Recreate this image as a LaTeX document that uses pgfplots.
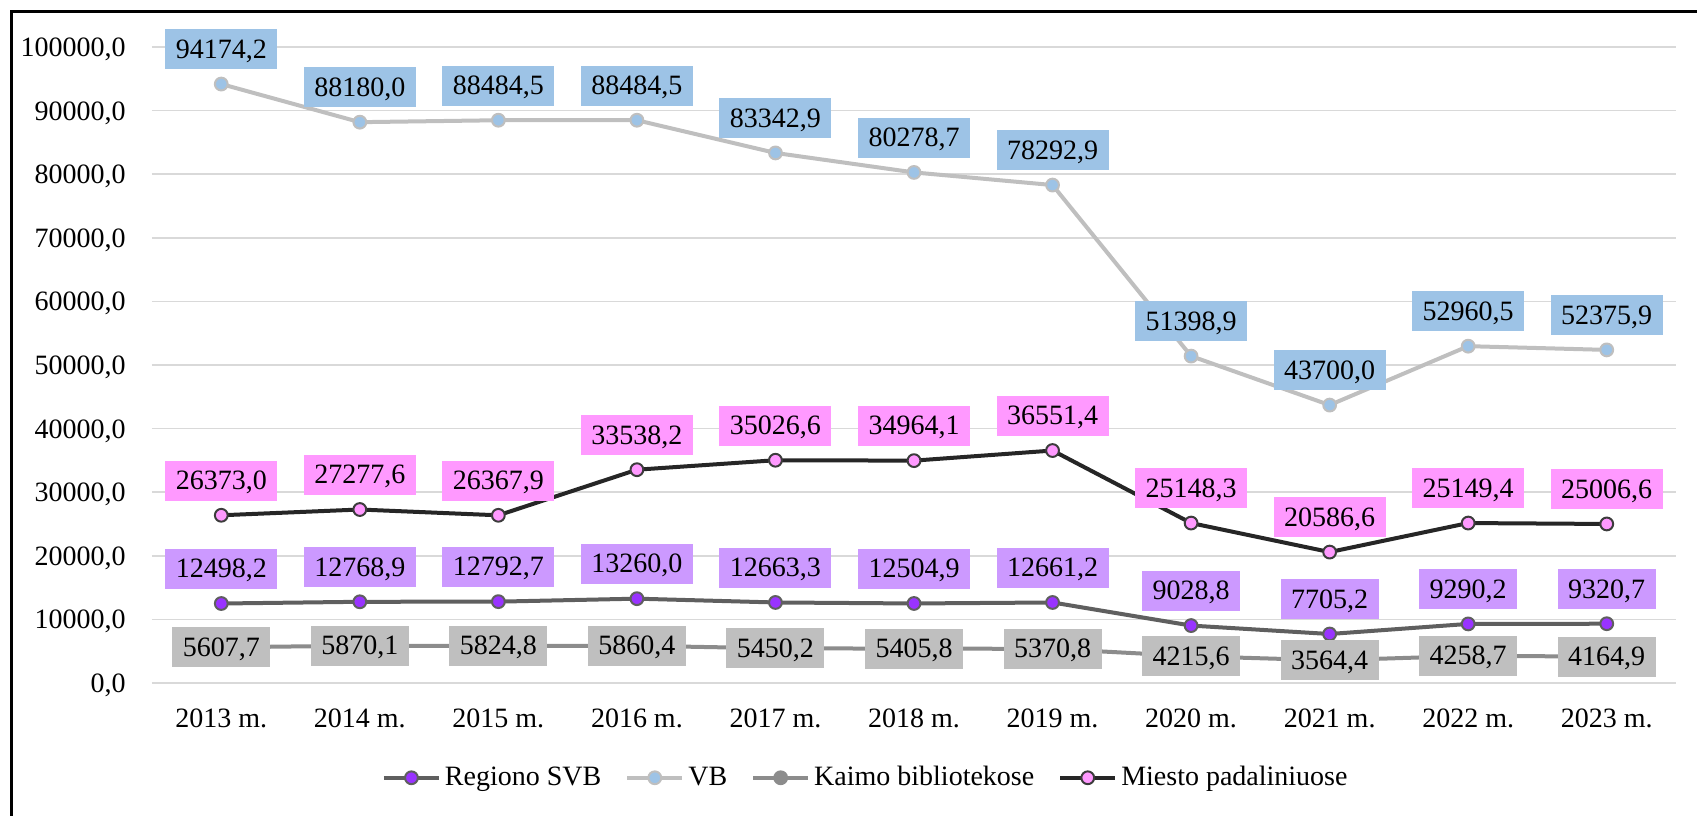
\documentclass[border=0pt]{standalone}
\usepackage{fontspec}
\setmainfont{Liberation Serif}
\usepackage{pgfplots}
\pgfplotsset{compat=1.18}

\definecolor{vbline}{HTML}{BFBFBF}
\definecolor{vbmark}{HTML}{9DC3E6}
\definecolor{vblab}{HTML}{9DC3E6}
\definecolor{miline}{HTML}{262626}
\definecolor{mimark}{HTML}{FF99FF}
\definecolor{milab}{HTML}{FF99FF}
\definecolor{regline}{HTML}{5F5F5F}
\definecolor{regmark}{HTML}{9933FF}
\definecolor{reglab}{HTML}{CC99FF}
\definecolor{kaline}{HTML}{8C8C8C}
\definecolor{kalab}{HTML}{BFBFBF}
\definecolor{gridc}{HTML}{D9D9D9}

\newcommand{\lbl}{\fontsize{14pt}{16pt}\selectfont}
\tikzset{
  labbase/.style={font=\lbl, text=black, inner xsep=5.25pt, inner ysep=5pt,
    text height=9.5pt, text depth=0.5pt, outer sep=0pt},
  lab/.style={labbase, anchor=south, yshift=7.35pt},
  labc/.style={labbase, anchor=center}}

\begin{document}
\begin{tikzpicture}
\useasboundingbox (-76pt,-66pt) rectangle (772.5pt,341.5pt);
\begin{axis}[
at={(0pt,0pt)},anchor=south west,scale only axis,
width=762pt,height=318pt,
xmin=-0.5,xmax=10.5,ymin=0,ymax=100000,
xtick={0,...,10},
xticklabels={2013 m.,2014 m.,2015 m.,2016 m.,2017 m.,2018 m.,2019 m.,2020 m.,2021 m.,2022 m.,2023 m.},
ytick={0,10000,...,100000},
scaled y ticks=false,
axis line style={draw=none},major tick style={draw=none},
ymajorgrids,major grid style={color=gridc,line width=0.75pt},
clip=false,
/pgf/number format/assume math mode=true,
xticklabel style={font=\lbl,anchor=north,inner sep=0pt,text height=9.5pt,yshift=-12.5pt},
yticklabel style={font=\lbl,anchor=east,inner sep=0pt,text height=9.5pt,text depth=0pt,xshift=-13pt,
  /pgf/number format/.cd,fixed,fixed zerofill,precision=1,use comma,1000 sep={}},
legend columns=4,
legend style={at={(0.469,-0.149)},anchor=center,draw=none,fill=none,font=\lbl,
  inner sep=0pt,/tikz/every even column/.append style={column sep=10pt}},
legend cell align=left,
legend image code/.code={\draw[mark repeat=2,mark phase=2]
  plot coordinates {(0pt,0pt)(13.75pt,0pt)(27.5pt,0pt)};},
point meta=explicit symbolic,
]
\addplot[regline,line width=2pt,line join=round,mark=*,mark size=3.2pt,
  mark options={fill=regmark,draw=regline,line width=1pt},
  nodes near coords,every node near coord/.append style={lab,fill=reglab}]
coordinates {(0,12498.2)[12498,2] (1,12768.9)[12768,9] (2,12792.7)[12792,7] (3,13260.0)[13260,0]
(4,12663.3)[12663,3] (5,12504.9)[12504,9] (6,12661.2)[12661,2] (7,9028.8)[9028,8]
(8,7705.2)[7705,2] (9,9290.2)[9290,2] (10,9320.7)[9320,7]};
\addlegendentry{Regiono SVB}
\addplot[vbline,line width=2pt,line join=round,mark=*,mark size=3.2pt,
  mark options={fill=vbmark,draw=vbline,line width=1pt},
  nodes near coords,every node near coord/.append style={lab,fill=vblab}]
coordinates {(0,94174.2)[94174,2] (1,88180.0)[88180,0] (2,88484.5)[88484,5] (3,88484.5)[88484,5]
(4,83342.9)[83342,9] (5,80278.7)[80278,7] (6,78292.9)[78292,9] (7,51398.9)[51398,9]
(8,43700.0)[43700,0] (9,52960.5)[52960,5] (10,52375.9)[52375,9]};
\addlegendentry{VB}
\addplot[kaline,line width=2pt,line join=round,mark=*,mark size=3.2pt,
  mark options={fill=kaline,draw=kaline,line width=1pt},
  nodes near coords,every node near coord/.append style={labc,fill=kalab}]
coordinates {(0,5607.7)[5607,7] (1,5870.1)[5870,1] (2,5824.8)[5824,8] (3,5860.4)[5860,4]
(4,5450.2)[5450,2] (5,5405.8)[5405,8] (6,5370.8)[5370,8] (7,4215.6)[4215,6]
(8,3564.4)[3564,4] (9,4258.7)[4258,7] (10,4164.9)[4164,9]};
\addlegendentry{Kaimo bibliotekose}
\addplot[miline,line width=2pt,line join=round,mark=*,mark size=3.2pt,
  mark options={fill=mimark,draw=miline!90,line width=1pt},
  nodes near coords,every node near coord/.append style={lab,fill=milab}]
coordinates {(0,26373.0)[26373,0] (1,27277.6)[27277,6] (2,26367.9)[26367,9] (3,33538.2)[33538,2]
(4,35026.6)[35026,6] (5,34964.1)[34964,1] (6,36551.4)[36551,4] (7,25148.3)[25148,3]
(8,20586.6)[20586,6] (9,25149.4)[25149,4] (10,25006.6)[25006,6]};
\addlegendentry{Miesto padaliniuose}
\end{axis}
\draw[black,line width=1.5pt] (-70.1pt,-120pt) |- (900pt,335.6pt);
\end{tikzpicture}
\end{document}
